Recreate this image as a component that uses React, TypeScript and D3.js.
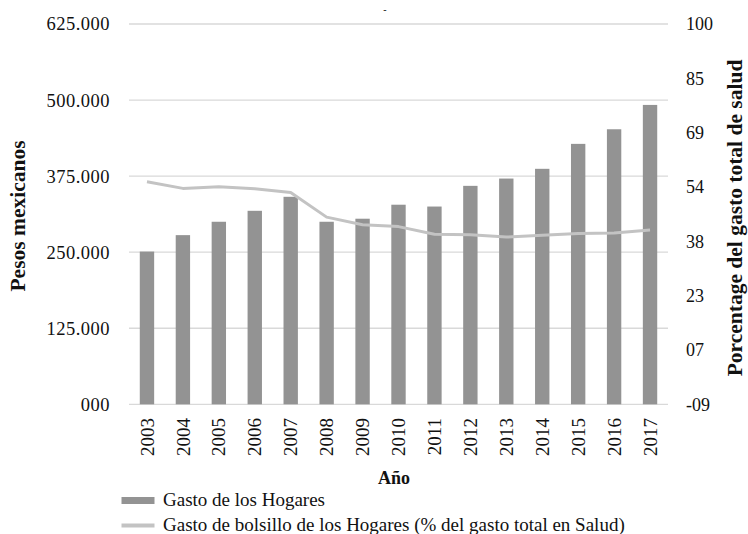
import { useMemo } from "react";
import { scaleBand, scaleLinear, line } from "d3";

const years = [
  "2003", "2004", "2005", "2006", "2007", "2008", "2009", "2010",
  "2011", "2012", "2013", "2014", "2015", "2016", "2017",
];
// Gasto de los Hogares (miles de pesos)
const gastoHogares = [
  251, 278, 300, 318, 341, 300, 305, 328, 325, 359, 371, 387, 428, 452, 492,
];
// Gasto de bolsillo (% del gasto total en salud)
const gastoBolsillo = [
  55.0, 53.1, 53.6, 53.0, 51.9, 44.9, 42.7, 42.2, 40.0, 39.9, 39.2, 39.7,
  40.2, 40.4, 41.2,
];
const leftTicks = [0, 125, 250, 375, 500, 625];
const leftTickLabels = ["000", "125.000", "250.000", "375.000", "500.000", "625.000"];
const rightTicks = [-8.5, 7, 22.5, 38, 53.5, 69, 84.5, 100];
const rightTickLabels = ["-09", "07", "23", "38", "54", "69", "85", "100"];

const width = 748;
const height = 534;
const left = 129;
const right = 668;
const top = 24;
const bottom = 404.3;

const barColor = "#939393";
const lineColor = "#c3c3c3";
const gridColor = "#d9d9d9";
const font = "'Liberation Serif', 'Times New Roman', serif";

export default function App() {
  const { x, yLeft, yRight, path } = useMemo(() => {
    const x = scaleBand().domain(years).range([left, right]).paddingInner(0.6).paddingOuter(0.3);
    const yLeft = scaleLinear().domain([0, 625]).range([bottom, top]);
    const yRight = scaleLinear().domain([-8.5, 100]).range([bottom, top]);
    const path = line<number>()
      .x((_, i) => (x(years[i]) ?? 0) + x.bandwidth() / 2)
      .y((d) => yRight(d))(gastoBolsillo);
    return { x, yLeft, yRight, path };
  }, []);

  return (
    <svg
      width={width}
      height={height}
      style={{ position: "absolute", left: 0, top: 0, background: "white" }}
      fontFamily={font}
    >
      {leftTicks.map((t, i) => (
        <g key={t}>
          <line x1={left} x2={right} y1={yLeft(t)} y2={yLeft(t)} stroke={gridColor} strokeWidth={1.3} />
          <text x={110} y={yLeft(t)} dy="0.35em" textAnchor="end" fontSize={18.5} fill="#111" letterSpacing={0.5}>
            {leftTickLabels[i]}
          </text>
        </g>
      ))}
      {rightTicks.map((t, i) => (
        <text key={t} x={686} y={yRight(t)} dy="0.35em" fontSize={18} fill="#111">
          {rightTickLabels[i]}
        </text>
      ))}
      {gastoHogares.map((v, i) => (
        <rect
          key={years[i]}
          x={x(years[i])}
          y={yLeft(v)}
          width={x.bandwidth()}
          height={yLeft(0) - yLeft(v)}
          fill={barColor}
        />
      ))}
      <path d={path ?? ""} fill="none" stroke={lineColor} strokeWidth={3} strokeLinejoin="round" />
      {years.map((yr) => (
        <text
          key={yr}
          transform={`translate(${(x(yr) ?? 0) + x.bandwidth() / 2}, 418) rotate(-90)`}
          dy="0.35em"
          textAnchor="end"
          fontSize={19}
          fill="#111"
        >
          {yr}
        </text>
      ))}
      <text x={394} y={484} textAnchor="middle" fontSize={18} fontWeight="bold" fill="#111">
        Año
      </text>
      <text
        transform={`translate(17, 216) rotate(-90)`}
        dy="0.35em"
        textAnchor="middle"
        fontSize={21.5}
        fontWeight="bold"
        fill="#111"
      >
        Pesos mexicanos
      </text>
      <text
        transform={`translate(734, 218) rotate(-90)`}
        dy="0.35em"
        textAnchor="middle"
        fontSize={21.5}
        fontWeight="bold"
        fill="#111"
      >
        Porcentage del gasto total de salud
      </text>
      <text x={385} y={13} textAnchor="middle" fontSize={10} fill="#111">
        -
      </text>
      <rect x={121.5} y={497} width={33} height={7} fill={barColor} />
      <text x={163} y={505.5} fontSize={19} fill="#111">
        Gasto de los Hogares
      </text>
      <line x1={121.5} x2={154.5} y1={525.5} y2={525.5} stroke={lineColor} strokeWidth={4} />
      <text x={163} y={530.5} fontSize={19} fill="#111">
        Gasto de bolsillo de los Hogares (% del gasto total en Salud)
      </text>
    </svg>
  );
}
